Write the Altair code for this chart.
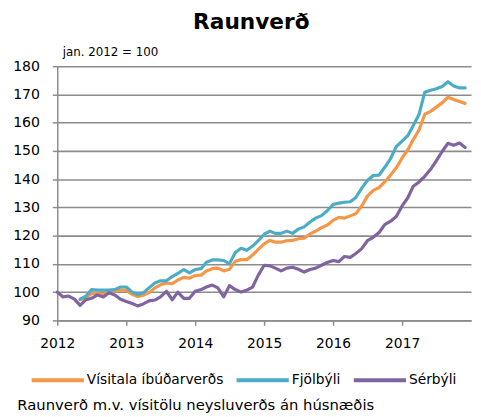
import altair as alt
import pandas as pd

months = [f"{2012 + i // 12}-{i % 12 + 1:02d}-01" for i in range(72)]

visitala = [None, None, None, None,
            97.3, 98.0, 99.5, 99.5, 99.2, 99.8, 100.3, 100.7,
            100.7, 99.2, 98.4, 98.9, 99.8, 101.5, 102.6, 103.2, 103.0, 104.3, 105.2, 104.9,
            105.9, 106.0, 107.5, 108.3, 108.5, 107.5, 108.1, 110.9, 111.5, 111.5, 113.1, 115.1,
            117.1, 118.3, 117.7, 117.7, 118.2, 118.3, 118.9, 119.1, 120.6, 121.6, 122.8, 123.7,
            125.4, 126.5, 126.2, 127.0, 127.8, 130.5, 134.0, 136.0, 137.0, 139.0, 141.5, 144.0,
            147.5, 150.5, 154.0, 157.5, 163.0, 164.0, 165.5, 167.0, 169.0, 168.2, 167.5, 166.8]

fjolbyli = [None, None, None, None,
            97.5, 98.6, 100.9, 100.7, 100.7, 100.7, 100.9, 101.8,
            101.8, 100.0, 99.2, 99.8, 101.5, 103.2, 104.0, 104.0, 105.5, 106.6, 108.0, 106.8,
            108.0, 108.3, 110.6, 111.4, 111.4, 111.2, 110.0, 114.0, 115.5, 114.8, 116.3, 118.2,
            120.5, 121.6, 120.8, 120.8, 121.6, 120.8, 122.3, 123.1, 124.8, 126.2, 127.1, 128.8,
            131.0, 131.5, 131.8, 132.0, 133.5, 136.8, 139.5, 141.3, 141.4, 144.2, 147.3, 151.5,
            153.5, 155.5, 159.0, 163.0, 170.8, 171.5, 172.0, 172.8, 174.5, 173.0, 172.3, 172.3]

serbyli = [100.0, 98.3, 98.6, 97.5, 95.3, 97.3, 97.8, 99.0, 98.3, 99.8, 99.0, 97.5,
           96.7, 96.0, 95.1, 95.8, 96.9, 97.2, 98.3, 100.3, 97.3, 100.0, 97.8, 97.8,
           100.3, 100.9, 101.8, 102.5, 101.5, 98.3, 102.3, 100.9, 100.0, 100.7, 101.8, 106.0,
           109.5, 109.3, 108.5, 107.5, 108.5, 108.8, 108.1, 107.1, 108.0, 108.5, 109.5, 110.5,
           111.2, 110.8, 112.6, 112.3, 113.7, 115.4, 118.2, 119.4, 121.1, 123.9, 125.1, 126.8,
           130.5, 133.5, 137.5, 139.0, 141.0, 143.5, 146.5, 149.8, 152.7, 152.0, 152.8, 151.2]

series_names = ["Vísitala íbúðarverðs", "Fjölbýli", "Sérbýli"]
series_colors = ["#F79646", "#4BACC6", "#8064A2"]
year_ticks = [2012, 2013, 2014, 2015, 2016, 2017]
y_ticks = [90, 100, 110, 120, 130, 140, 150, 160, 170, 180]

rows = []
for name, vals in zip(series_names, [visitala, fjolbyli, serbyli]):
    for m, v in zip(months, vals):
        if v is not None:
            rows.append({"dags": m, "gildi": v, "röð": name})
df = pd.DataFrame(rows)

FONT = "DejaVu Sans"
GRID = "#8c8c8c"

chart = alt.Chart(df).mark_line(strokeWidth=3.2, strokeJoin="round", strokeCap="round").encode(
    x=alt.X("dags:T",
            scale=alt.Scale(domain=[alt.DateTime(year=2012, month=1, date=1),
                                    alt.DateTime(year=2018, month=1, date=1)]),
            axis=alt.Axis(values=[alt.DateTime(year=y, month=1, date=1) for y in year_ticks],
                          format="%Y", grid=False, tickSize=5, tickColor=GRID, tickWidth=1.5,
                          domainColor=GRID, domainWidth=1.5, labelFontSize=14,
                          labelFont=FONT, labelColor="#000", labelPadding=12,
                          labelFlush=False,
                          title="Raunverð m.v. vísitölu neysluverðs  án húsnæðis",
                          titleFont=FONT, titleFontSize=15, titleFontWeight="normal",
                          titleColor="#000", titleAnchor="start", titleAlign="left",
                          titleX=-41, titleY=86, titleBaseline="middle")),
    y=alt.Y("gildi:Q",
            scale=alt.Scale(domain=[90, 180], nice=False, zero=False),
            axis=alt.Axis(values=y_ticks, grid=True, gridColor=GRID, gridWidth=1.6,
                          tickSize=5, tickColor=GRID, tickWidth=1.5,
                          domainColor=GRID, domainWidth=1.5, labelFontSize=14.3,
                          labelFont=FONT, labelColor="#000", labelPadding=13,
                          labelFlush=False,
                          title="jan. 2012 = 100", titleAngle=0, titleAlign="left",
                          titleBaseline="middle", titleX=5, titleY=-15,
                          titleFont=FONT, titleFontSize=12, titleFontWeight="normal",
                          titleColor="#000")),
    color=alt.Color("röð:N",
                    scale=alt.Scale(domain=series_names, range=series_colors),
                    legend=alt.Legend(title=None, orient="none", legendX=-28, legendY=290,
                                      direction="horizontal", symbolType="stroke",
                                      symbolSize=2809, symbolStrokeWidth=4,
                                      labelFont=FONT, labelFontSize=14, labelColor="#000",
                                      labelOffset=1, columnPadding=5)),
    order=alt.Order("röð:N"),
).properties(
    width=420,
    height=258,
    padding={"left": 50, "top": 56, "right": 2, "bottom": 92},
    autosize=alt.AutoSizeParams(type="none"),
    title=alt.TitleParams("Raunverð", font=FONT, fontSize=22, fontWeight="bold",
                          color="#000", anchor="middle", dx=-13, dy=-8, frame="group"),
).configure_view(stroke=None)

chart.save("out.html", embed_options={"renderer": "svg", "actions": False})
